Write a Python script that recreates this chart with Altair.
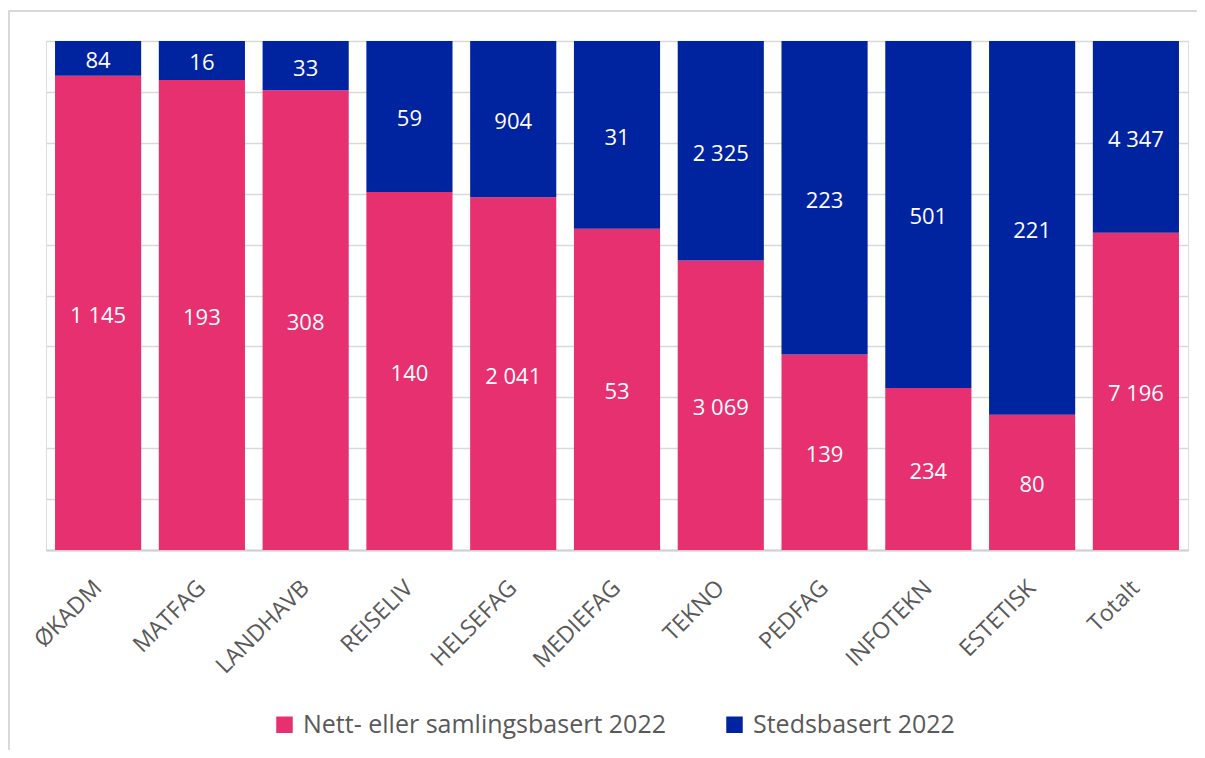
import altair as alt
import pandas as pd

categories = ["ØKADM", "MATFAG", "LANDHAVB", "REISELIV", "HELSEFAG", "MEDIEFAG",
              "TEKNO", "PEDFAG", "INFOTEKN", "ESTETISK", "Totalt"]
nett = [1145, 193, 308, 140, 2041, 53, 3069, 139, 234, 80, 7196]
sted = [84, 16, 33, 59, 904, 31, 2325, 223, 501, 221, 4347]
series = ["Nett- eller samlingsbasert 2022", "Stedsbasert 2022"]
colors = ["#E7306F", "#00239F"]

FONT = "Open Sans"

rows = []
for c, a, b in zip(categories, nett, sted):
    for i, (s, v) in enumerate(zip(series, [a, b])):
        rows.append({"cat": c, "serie": s, "value": v, "order": i,
                     "label": f"{v:,}".replace(",", " ")})
df = pd.DataFrame(rows)

xenc = alt.X("cat:N", sort=categories,
             scale=alt.Scale(paddingInner=0.17, paddingOuter=0.087),
             axis=alt.Axis(title=None, labelAngle=315, labelAlign="right",
                           labelBaseline="middle", labelFontSize=23,
                           labelColor="#595959", labelFont=FONT, ticks=False,
                           labelPadding=34, domainColor="#d0d0d0", domainWidth=2,
                           grid=False))

base = alt.Chart(df).transform_stack(
    stack="value", groupby=["cat"], as_=["y0", "y1"], offset="normalize",
    sort=[alt.SortField("order", order="ascending")])

bars = base.mark_bar().encode(
    x=xenc,
    y=alt.Y("y0:Q", scale=alt.Scale(domain=[0, 1]),
            axis=alt.Axis(title=None, labels=False, ticks=False, domain=False,
                          grid=True, gridColor="#d9d9d9", gridWidth=1.5,
                          values=[i / 10 for i in range(11)])),
    y2="y1:Q",
    color=alt.Color("serie:N", scale=alt.Scale(domain=series, range=colors),
                    legend=alt.Legend(title=None, orient="none", direction="horizontal",
                                      legendX=226, legendY=671, padding=0,
                                      labelFontSize=25, labelColor="#595959",
                                      labelFont=FONT, labelLimit=600,
                                      symbolType="square",
                                      symbolSize=272, symbolStrokeWidth=0,
                                      labelOffset=6, columnPadding=56)),
)

text = base.transform_calculate(mid="(datum.y0 + datum.y1) / 2").mark_text(
    color="white", fontSize=22, font=FONT, dy=3
).encode(x=alt.X("cat:N", sort=categories), y="mid:Q", text="label:N")

frame = alt.Chart(pd.DataFrame({"f": [0]})).mark_rect(
    filled=False, stroke="#d9d9d9", strokeWidth=2, clip=False
).encode(x=alt.value(-37), x2=alt.value(1170), y=alt.value(-30), y2=alt.value(740))

chart = alt.layer(frame, bars, text).properties(
    width=1142, height=509,
    autosize=alt.AutoSizeParams(type="none"),
    padding={"left": 38, "top": 33, "right": 9, "bottom": 200},
).configure_view(stroke=None).configure(background="white")

chart.save("out.html", embed_options={"renderer": "svg", "actions": False})
